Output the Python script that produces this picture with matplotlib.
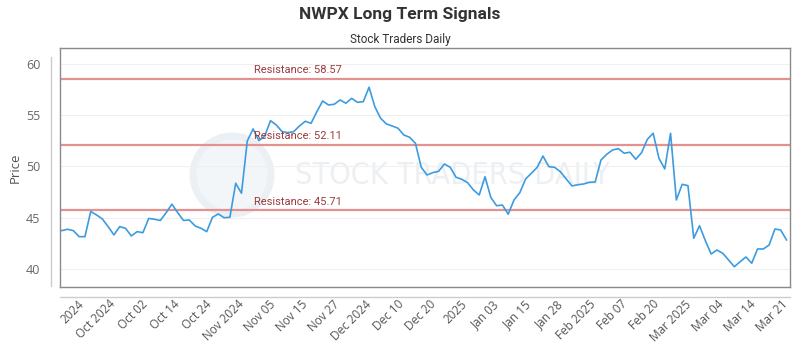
import numpy as np
import matplotlib
matplotlib.use("Agg")
import matplotlib.pyplot as plt
from matplotlib.lines import Line2D
from matplotlib.patches import Ellipse
from matplotlib.transforms import blended_transform_factory

plt.rcParams['font.family'] = ['Open Sans', 'DejaVu Sans']

title = "NWPX Long Term Signals"
subtitle = "Stock Traders Daily"
y_label = "Price"

prices = [43.74, 43.87, 43.74, 43.15, 43.15, 45.61, 45.27, 44.88, 44.13, 43.32,
          44.13, 43.97, 43.22, 43.64, 43.54, 44.93, 44.85, 44.73, 45.49, 46.32,
          45.49, 44.73, 44.78, 44.20, 43.97, 43.64, 45.04, 45.37, 45.00, 45.04,
          48.36, 47.39, 52.49, 53.66, 52.52, 52.95, 54.47, 54.05, 53.40, 53.30,
          53.40, 53.95, 54.41, 54.21, 55.35, 56.39, 56.00, 56.07, 56.49, 56.17,
          56.65, 56.26, 56.32, 57.73, 55.83, 54.70, 54.15, 53.95, 53.73, 53.07,
          52.85, 52.26, 49.92, 49.17, 49.40, 49.53, 50.24, 49.92, 48.95, 48.75,
          48.42, 47.71, 47.22, 49.00, 46.98, 46.17, 46.24, 45.34, 46.73, 47.44,
          48.78, 49.34, 49.92, 51.02, 49.98, 49.92, 49.49, 48.78, 48.10, 48.22,
          48.29, 48.46, 48.49, 50.63, 51.19, 51.61, 51.74, 51.29, 51.39, 50.70,
          51.35, 52.65, 53.24, 50.80, 49.76, 53.24, 46.73, 48.26, 48.13, 43.00,
          44.22, 42.76, 41.46, 41.85, 41.53, 40.88, 40.22, 40.71, 41.17, 40.56,
          41.95, 41.95, 42.34, 43.90, 43.80, 42.83]

tick_labels = ["2024", "Oct 2024", "Oct 02", "Oct 14", "Oct 24", "Nov 2024",
               "Nov 05", "Nov 15", "Nov 27", "Dec 2024", "Dec 10", "Dec 20",
               "2025", "Jan 03", "Jan 15", "Jan 28", "Feb 2025", "Feb 07",
               "Feb 20", "Mar 2025", "Mar 04", "Mar 14", "Mar 21"]

resistance = [58.57, 52.11, 45.71]
y_ticks = [40, 45, 50, 55, 60]

fig = plt.figure(figsize=(8, 3.5), dpi=100)
fig.patch.set_facecolor('white')
ax = fig.add_axes([60/800, 1-287/350, 730/800, 239/350])
ax.set_zorder(1)
ax.set_facecolor('none')

x = np.arange(len(prices))

# faint watermark behind the plot
fig.add_artist(Ellipse((232/800, 1-175/350), 78/800, 78/350,
                       facecolor='#f3f6f9', edgecolor='#ebf0f4', lw=5, zorder=-1))
fig.text(452/800, 1-175/350, "STOCK TRADERS DAILY", ha='center', va='center',
         fontsize=22, color='#edf0f3', zorder=-1, fontstretch='condensed',
         family=['DejaVu Sans'])

for yv in y_ticks:
    ax.axhline(yv, color='#f0f0f0', lw=0.8, zorder=1)

tr = blended_transform_factory(ax.transAxes, ax.transData)
for r in resistance:
    ax.axhline(r, color='#e39191', lw=1.6, zorder=2)
    ax.annotate(f"Resistance: {r:.2f}", xy=(194/730, r), xycoords=tr,
                xytext=(0, 2.5), textcoords='offset points', ha='left', va='bottom',
                fontsize=8, color='#9c3b3b', family=['Roboto', 'DejaVu Sans'], zorder=4)

ax.plot(x, prices, color='#3d9be0', lw=1.2, zorder=3)

ax.set_xlim(-0.3, len(prices) - 0.4)
ax.set_ylim(38.24, 61.56)
ax.set_yticks(y_ticks)
ax.set_yticklabels([str(v) for v in y_ticks])
tick_pos = np.linspace(3.45, 124.8, len(tick_labels))
ax.set_xticks(tick_pos)
ax.set_xticklabels(tick_labels, rotation=45, ha='right', va='center',
                   rotation_mode='anchor')
ax.tick_params(axis='x', length=0, pad=11, labelsize=8.5, labelcolor='#555555')
ax.tick_params(axis='y', length=0, pad=14, labelsize=9, labelcolor='#666666')

for s in ax.spines.values():
    s.set_color('#8a8a8a')
    s.set_linewidth(1.0)

ax.set_ylabel(y_label, fontsize=9.5, color='#555555')
ax.yaxis.set_label_coords(-0.052, 0.5)

# outer axis lines
fig.add_artist(Line2D([51/800, 51/800], [1-57/350, 1-286/350], color='#cccccc', lw=1))
fig.add_artist(Line2D([60/800, 790/800], [1-297/350, 1-297/350], color='#cccccc', lw=1))

fig.text(0.5, 1-15/350, title, ha='center', va='center', fontsize=12.5,
         fontweight='bold', color='#333333', family=['Roboto', 'DejaVu Sans'])
fig.text(0.5, 1-40/350, subtitle, ha='center', va='center', fontsize=8.5,
         color='#333333', family=['Roboto', 'DejaVu Sans'])

fig.savefig("out.png", dpi=100, facecolor='white')
